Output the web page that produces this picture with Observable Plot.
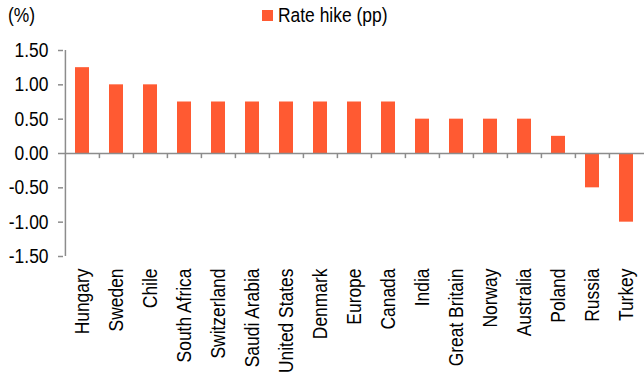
<!DOCTYPE html>
<html>
<head>
<meta charset="utf-8">
<script src="https://cdn.jsdelivr.net/npm/d3@7"></script>
<script src="https://cdn.jsdelivr.net/npm/@observablehq/plot@0.6"></script>
<style>
  html, body { margin: 0; padding: 0; background: #fff; }
  #wrap { position: relative; width: 644px; height: 374px; font-family: "Liberation Sans", Arial, sans-serif; color: #000; }
  .narrow { display: inline-block; transform: scale(0.85, 1); transform-origin: left center; white-space: nowrap; }
  #unit { position: absolute; left: 8px; top: 3px; font-size: 20.5px; }
  #legend { position: absolute; left: 262px; top: 3px; font-size: 20.5px; display: flex; align-items: center; }
  #legend .sw { width: 11px; height: 11px; background: #ff5a32; margin-right: 5px; }
  #chart { position: absolute; left: 0; top: 0; }
</style>
</head>
<body>
<div id="wrap">
  <div id="chart"></div>
  <div id="unit"><span class="narrow">(%)</span></div>
  <div id="legend"><span class="sw"></span><span class="narrow">Rate hike (pp)</span></div>
</div>
<script>
// Policy rate changes by country, in percentage points
const countries = ["Hungary", "Sweden", "Chile", "South Africa", "Switzerland", "Saudi Arabia",
  "United States", "Denmark", "Europe", "Canada", "India", "Great Britain", "Norway",
  "Australia", "Poland", "Russia", "Turkey"];
const rateHike = [1.25, 1.0, 1.0, 0.75, 0.75, 0.75, 0.75, 0.75, 0.75, 0.75, 0.5, 0.5, 0.5, 0.5, 0.25, -0.5, -1.0];
const yTicks = [-1.5, -1.0, -0.5, 0, 0.5, 1.0, 1.5];

const data = countries.map((c, i) => ({country: c, value: rateHike[i]}));

const axisGray = "#8c8c8c";
const barColor = "#ff5a32";
const halfStep = 581 / countries.length / 2; // half of one category band step, in px

const chart = Plot.plot({
  width: 644,
  height: 374,
  marginTop: 50,
  marginBottom: 118,
  marginLeft: 63,
  marginRight: 0,
  style: {fontFamily: "Liberation Sans, Arial, sans-serif", fontSize: "20.5px", color: "#000", background: "transparent"},
  x: {domain: countries, paddingInner: 0.59, paddingOuter: 0.295, label: null},
  y: {domain: [-1.5, 1.5], label: null},
  marks: [
    Plot.barY(data, {x: "country", y: "value", fill: barColor}),
    // zero baseline with small ticks between categories
    Plot.ruleY([0], {stroke: axisGray, strokeWidth: 1.5}),
    Plot.ruleX(countries.slice(1), {x: d => d, y1: 0, y2: -0.075, dx: -halfStep, stroke: axisGray, strokeWidth: 1.5}),
    // left axis line, on the outer edge of the first band
    Plot.ruleX(countries.slice(0, 1), {x: d => d, y1: -1.5, y2: 1.5, dx: -halfStep, stroke: axisGray, strokeWidth: 1.5}),
    Plot.axisY({ticks: yTicks, tickFormat: d => d.toFixed(2), tickSize: 5, tickPadding: 10, stroke: axisGray, strokeWidth: 1.5, fill: "#000"}),
    Plot.axisX({tickRotate: -90, tickSize: 0, tickPadding: 12, fill: "#000"})
  ]
});

// narrow the axis lettering horizontally, keeping each label's anchor in place
d3.select(chart).selectAll("text").each(function () {
  const t = this.getAttribute("transform") || "";
  this.setAttribute("transform", (t + " scale(0.85,1)").trim());
});

document.getElementById("chart").appendChild(chart);
</script>
</body>
</html>
